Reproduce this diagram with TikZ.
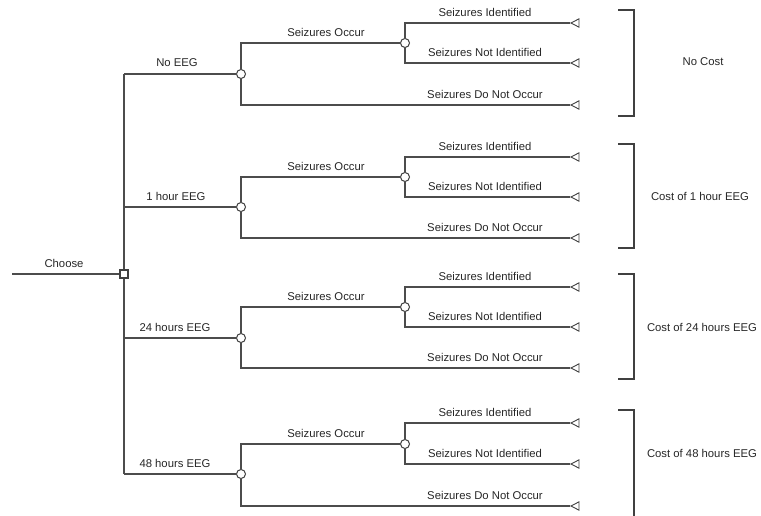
\documentclass[tikz,border=0pt]{standalone}
\usepackage{fontspec}
\setmainfont{Liberation Sans}
\usetikzlibrary{shapes.geometric}

\begin{document}
\begin{tikzpicture}[
  x=1pt, y=-1pt,
  branch/.style={draw=black!70, line width=1.2pt},
  decision/.style={
    rectangle, draw=black!75, fill=white, line width=1.1pt,
    minimum size=8pt, inner sep=0pt
  },
  chance/.style={
    circle, draw=black!75, fill=white, line width=1pt,
    minimum size=9pt, inner sep=0pt
  },
  terminal/.style={
    isosceles triangle, isosceles triangle apex angle=55, shape border rotate=180,
    draw=black!75, fill=white, line width=0.9pt, minimum height=8pt, inner sep=0pt,
    anchor=apex
  },
  label/.style={font=\fontsize{11.3}{13}\selectfont, text=black!85, inner sep=0pt},
  bracket/.style={draw=black!75, line width=1.2pt}
]
\useasboundingbox (0,0) rectangle (761,516);

% === Decision node ===
\node[decision] (choose) at (124,274) {};
\coordinate (root) at (12,274);
\node[label] (lchoose) at (64,263) {Choose};
\draw[branch] (root) -- (choose.west);

% === Trunk junctions ===
\coordinate (j1) at (124,74);
\coordinate (j2) at (124,207);
\coordinate (j3) at (124,338);
\coordinate (j4) at (124,474);
\draw[branch] (choose.north) -- (j1);
\draw[branch] (choose.south) -- (j4);

% === No EEG ===
\node[chance] (c1) at (241,74) {};
\node[chance] (s1) at (405,43) {};
\node[terminal] (t11) at (570,23) {};
\node[terminal] (t12) at (570,63) {};
\node[terminal] (t13) at (570,105) {};
\draw[branch] (j1) -- (c1.west);
\draw[branch] (c1.north) |- (s1.west);
\draw[branch] (c1.south) |- (t13.apex);
\draw[branch] (s1.north) |- (t11.apex);
\draw[branch] (s1.south) |- (t12.apex);
\node[label] (l1) at (177,63) {No EEG};
\node[label] (o1) at (326,32) {Seizures Occur};
\node[label] (i1) at (485,12) {Seizures Identified};
\node[label] (n1) at (485,52) {Seizures Not Identified};
\node[label] (d1) at (485,94) {Seizures Do Not Occur};
\draw[bracket] (618,10) -- (634,10) -- (634,116) -- (618,116);
\node[label] (cost1) at (703,62) {No Cost};

% === 1 hour EEG ===
\node[chance] (c2) at (241,207) {};
\node[chance] (s2) at (405,177) {};
\node[terminal] (t21) at (570,157) {};
\node[terminal] (t22) at (570,197) {};
\node[terminal] (t23) at (570,238) {};
\draw[branch] (j2) -- (c2.west);
\draw[branch] (c2.north) |- (s2.west);
\draw[branch] (c2.south) |- (t23.apex);
\draw[branch] (s2.north) |- (t21.apex);
\draw[branch] (s2.south) |- (t22.apex);
\node[label] (l2) at (176,196) {1 hour EEG};
\node[label] (o2) at (326,166) {Seizures Occur};
\node[label] (i2) at (485,146) {Seizures Identified};
\node[label] (n2) at (485,186) {Seizures Not Identified};
\node[label] (d2) at (485,227) {Seizures Do Not Occur};
\draw[bracket] (618,144) -- (634,144) -- (634,248) -- (618,248);
\node[label] (cost2) at (700,196) {Cost of 1 hour EEG};

% === 24 hours EEG ===
\node[chance] (c3) at (241,338) {};
\node[chance] (s3) at (405,307) {};
\node[terminal] (t31) at (570,287) {};
\node[terminal] (t32) at (570,327) {};
\node[terminal] (t33) at (570,368) {};
\draw[branch] (j3) -- (c3.west);
\draw[branch] (c3.north) |- (s3.west);
\draw[branch] (c3.south) |- (t33.apex);
\draw[branch] (s3.north) |- (t31.apex);
\draw[branch] (s3.south) |- (t32.apex);
\node[label] (l3) at (175,327) {24 hours EEG};
\node[label] (o3) at (326,296) {Seizures Occur};
\node[label] (i3) at (485,276) {Seizures Identified};
\node[label] (n3) at (485,316) {Seizures Not Identified};
\node[label] (d3) at (485,357) {Seizures Do Not Occur};
\draw[bracket] (618,274) -- (634,274) -- (634,379) -- (618,379);
\node[label] (cost3) at (702,327) {Cost of 24 hours EEG};

% === 48 hours EEG ===
\node[chance] (c4) at (241,474) {};
\node[chance] (s4) at (405,444) {};
\node[terminal] (t41) at (570,423) {};
\node[terminal] (t42) at (570,464) {};
\node[terminal] (t43) at (570,506) {};
\draw[branch] (j4) -- (c4.west);
\draw[branch] (c4.north) |- (s4.west);
\draw[branch] (c4.south) |- (t43.apex);
\draw[branch] (s4.north) |- (t41.apex);
\draw[branch] (s4.south) |- (t42.apex);
\node[label] (l4) at (175,463) {48 hours EEG};
\node[label] (o4) at (326,433) {Seizures Occur};
\node[label] (i4) at (485,412) {Seizures Identified};
\node[label] (n4) at (485,453) {Seizures Not Identified};
\node[label] (d4) at (485,495) {Seizures Do Not Occur};
\draw[bracket] (618,410) -- (634,410) -- (634,520) -- (618,520);
\node[label] (cost4) at (702,453) {Cost of 48 hours EEG};

\end{tikzpicture}
\end{document}
